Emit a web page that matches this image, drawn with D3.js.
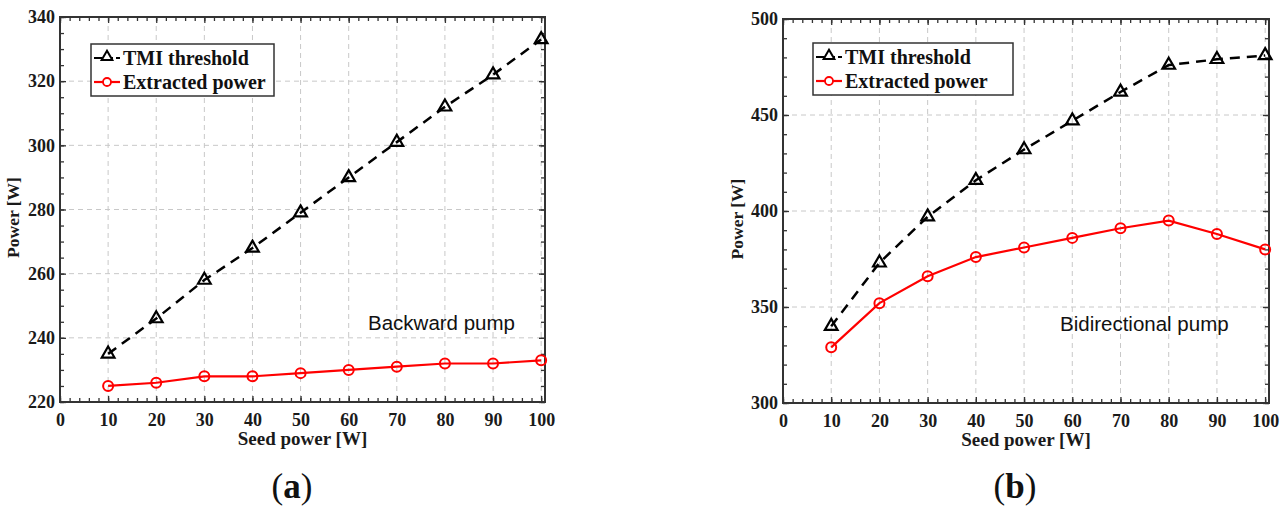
<!DOCTYPE html>
<html>
<head>
<meta charset="utf-8">
<script src="https://cdn.jsdelivr.net/npm/d3@7/dist/d3.min.js"></script>
<style>
  html, body { margin: 0; padding: 0; background: #fff; }
  svg { display: block; }
</style>
</head>
<body>
<svg id="chart" width="1286" height="509"></svg>
<script>
// Seed power values (W) shared by both panels
const seedPower = [10, 20, 30, 40, 50, 60, 70, 80, 90, 100];

// Panel (a): backward pumping
const backwardTMI = [235, 246, 258, 268, 279, 290, 301, 312, 322, 333];
const backwardExtracted = [225, 226, 228, 228, 229, 230, 231, 232, 232, 233];

// Panel (b): bidirectional pumping
const bidirTMI = [340, 373, 397, 416, 432, 447, 462, 476, 479, 481];
const bidirExtracted = [329, 352, 366, 376, 381, 386, 391, 395, 388, 380];

const xTicks = [0, 10, 20, 30, 40, 50, 60, 70, 80, 90, 100];
const yTicksA = [220, 240, 260, 280, 300, 320, 340];
const yTicksB = [300, 350, 400, 450, 500];

const legendLabels = ["TMI threshold", "Extracted power"];

const svg = d3.select("#chart");
const serif = "'Liberation Serif', 'Times New Roman', serif";
const sans = "'Liberation Sans', Arial, sans-serif";

function drawPanel(cfg) {
  const { left, right, top, bottom } = cfg.box;
  const x = d3.scaleLinear().domain([0, 100.8]).range([left, right]);
  const y = d3.scaleLinear().domain(cfg.yDomain).range([bottom, top]);
  const g = svg.append("g");

  // grid
  const grid = g.append("g").attr("stroke", "#c8c8c8").attr("stroke-width", 1)
    .attr("stroke-dasharray", "5,4");
  xTicks.slice(1).forEach(t => {
    grid.append("line").attr("x1", x(t)).attr("x2", x(t)).attr("y1", top).attr("y2", bottom);
  });
  cfg.yTicks.slice(1, -1).forEach(t => {
    grid.append("line").attr("x1", left).attr("x2", right).attr("y1", y(t)).attr("y2", y(t));
  });

  // axes: ticks point inward, mirrored on top and right
  const minorX = d3.range(0, 101, 2);
  const minorY = d3.range(cfg.yDomain[0], cfg.yDomain[1] + 0.01, cfg.yMinor);
  const axisStyle = sel => {
    sel.select(".domain").remove();
    sel.selectAll("line").attr("stroke", "#333").attr("stroke-width", 1.3);
    sel.selectAll("text").attr("font-family", serif).attr("font-weight", "bold")
      .attr("font-size", 18).attr("fill", "#1a1a1a");
  };

  g.append("g").attr("transform", `translate(0,${bottom})`)
    .call(d3.axisBottom(x).tickValues(minorX).tickSize(-4).tickFormat(""))
    .call(axisStyle);
  g.append("g").attr("transform", `translate(0,${bottom})`)
    .call(d3.axisBottom(x).tickValues(xTicks).tickSize(-6).tickPadding(11).tickFormat(d3.format("d")))
    .call(axisStyle);
  g.append("g").attr("transform", `translate(0,${top})`)
    .call(d3.axisTop(x).tickValues(minorX).tickSize(-4).tickFormat(""))
    .call(axisStyle);
  g.append("g").attr("transform", `translate(0,${top})`)
    .call(d3.axisTop(x).tickValues(xTicks).tickSize(-6).tickFormat(""))
    .call(axisStyle);

  g.append("g").attr("transform", `translate(${left},0)`)
    .call(d3.axisLeft(y).tickValues(minorY).tickSize(-4).tickFormat(""))
    .call(axisStyle);
  g.append("g").attr("transform", `translate(${left},0)`)
    .call(d3.axisLeft(y).tickValues(cfg.yTicks).tickSize(-6).tickPadding(5).tickFormat(d3.format("d")))
    .call(axisStyle);
  g.append("g").attr("transform", `translate(${right},0)`)
    .call(d3.axisRight(y).tickValues(minorY).tickSize(-4).tickFormat(""))
    .call(axisStyle);
  g.append("g").attr("transform", `translate(${right},0)`)
    .call(d3.axisRight(y).tickValues(cfg.yTicks).tickSize(-6).tickFormat(""))
    .call(axisStyle);

  // frame
  g.append("rect").attr("x", left).attr("y", top)
    .attr("width", right - left).attr("height", bottom - top)
    .attr("fill", "none").attr("stroke", "#333").attr("stroke-width", 2);

  const line = d3.line().x((d, i) => x(seedPower[i])).y(d => y(d));

  // TMI threshold: dashed black with open triangles
  g.append("path").datum(cfg.tmi).attr("d", line).attr("fill", "none")
    .attr("stroke", "#000").attr("stroke-width", 2.5).attr("stroke-dasharray", "10,7");
  const tri = d3.symbol().type(d3.symbolTriangle).size(70);
  g.selectAll(".tri").data(cfg.tmi).enter().append("path")
    .attr("d", tri)
    .attr("transform", (d, i) => `translate(${x(seedPower[i])},${y(d)})`)
    .attr("fill", "none").attr("stroke", "#000").attr("stroke-width", 2.2);

  // Extracted power: solid red with open circles
  g.append("path").datum(cfg.extracted).attr("d", line).attr("fill", "none")
    .attr("stroke", "#ff0000").attr("stroke-width", 2.2);
  g.selectAll(".circ").data(cfg.extracted).enter().append("circle")
    .attr("cx", (d, i) => x(seedPower[i])).attr("cy", d => y(d)).attr("r", 5)
    .attr("fill", "none").attr("stroke", "#ff0000").attr("stroke-width", 2);

  // axis titles
  g.append("text").attr("x", (left + right) / 2).attr("y", bottom + 43)
    .attr("text-anchor", "middle").attr("font-family", serif).attr("font-weight", "bold")
    .attr("font-size", 19).attr("fill", "#1a1a1a").text("Seed power [W]");
  g.append("text")
    .attr("transform", `translate(${cfg.yTitleX},${(top + bottom) / 2 + 8}) rotate(-90)`)
    .attr("text-anchor", "middle").attr("font-family", serif).attr("font-weight", "bold")
    .attr("font-size", 17.5).attr("fill", "#1a1a1a").text("Power [W]");

  // legend
  const lg = g.append("g").attr("transform", `translate(${cfg.legend.x},${cfg.legend.y})`);
  lg.append("rect").attr("width", cfg.legend.w).attr("height", 52)
    .attr("fill", "#fff").attr("stroke", "#333").attr("stroke-width", 1.5);
  // TMI entry
  lg.append("line").attr("x1", 3).attr("x2", 29).attr("y1", 14).attr("y2", 14)
    .attr("stroke", "#000").attr("stroke-width", 2.2).attr("stroke-dasharray", "8,3");
  lg.append("path").attr("d", d3.symbol().type(d3.symbolTriangle).size(50))
    .attr("transform", "translate(16,13)").attr("fill", "#fff")
    .attr("stroke", "#000").attr("stroke-width", 2);
  // extracted entry
  lg.append("line").attr("x1", 3).attr("x2", 29).attr("y1", 38).attr("y2", 38)
    .attr("stroke", "#ff0000").attr("stroke-width", 2.2);
  lg.append("circle").attr("cx", 16).attr("cy", 38).attr("r", 4)
    .attr("fill", "#fff").attr("stroke", "#ff0000").attr("stroke-width", 1.8);
  lg.selectAll(".lt").data(legendLabels).enter().append("text")
    .attr("x", 32).attr("y", (d, i) => 21 + i * 24)
    .attr("font-family", serif).attr("font-weight", "bold").attr("font-size", 20)
    .attr("fill", "#111").text(d => d);

  // annotation
  g.append("text").attr("x", cfg.note.x).attr("y", cfg.note.y)
    .attr("font-family", sans).attr("font-size", 20.5).attr("fill", "#111").text(cfg.note.text);

  // panel caption
  const cap = g.append("text").attr("x", cfg.captionX).attr("y", 498)
    .attr("text-anchor", "middle").attr("font-family", serif).attr("font-size", 35).attr("fill", "#111");
  cap.append("tspan").text("(");
  cap.append("tspan").attr("font-weight", "bold").text(cfg.caption);
  cap.append("tspan").text(")");
}

drawPanel({
  box: { left: 60, right: 545, top: 17, bottom: 402 },
  yDomain: [220, 340], yTicks: yTicksA, yMinor: 5,
  tmi: backwardTMI, extracted: backwardExtracted,
  yTitleX: 19,
  legend: { x: 91, y: 44, w: 183 },
  note: { x: 368, y: 330, text: "Backward pump" },
  caption: "a", captionX: 292
});

drawPanel({
  box: { left: 783, right: 1269, top: 19, bottom: 403 },
  yDomain: [300, 500], yTicks: yTicksB, yMinor: 10,
  tmi: bidirTMI, extracted: bidirExtracted,
  yTitleX: 743,
  legend: { x: 813, y: 43, w: 200 },
  note: { x: 1060, y: 331, text: "Bidirectional pump" },
  caption: "b", captionX: 1015
});
</script>
</body>
</html>
